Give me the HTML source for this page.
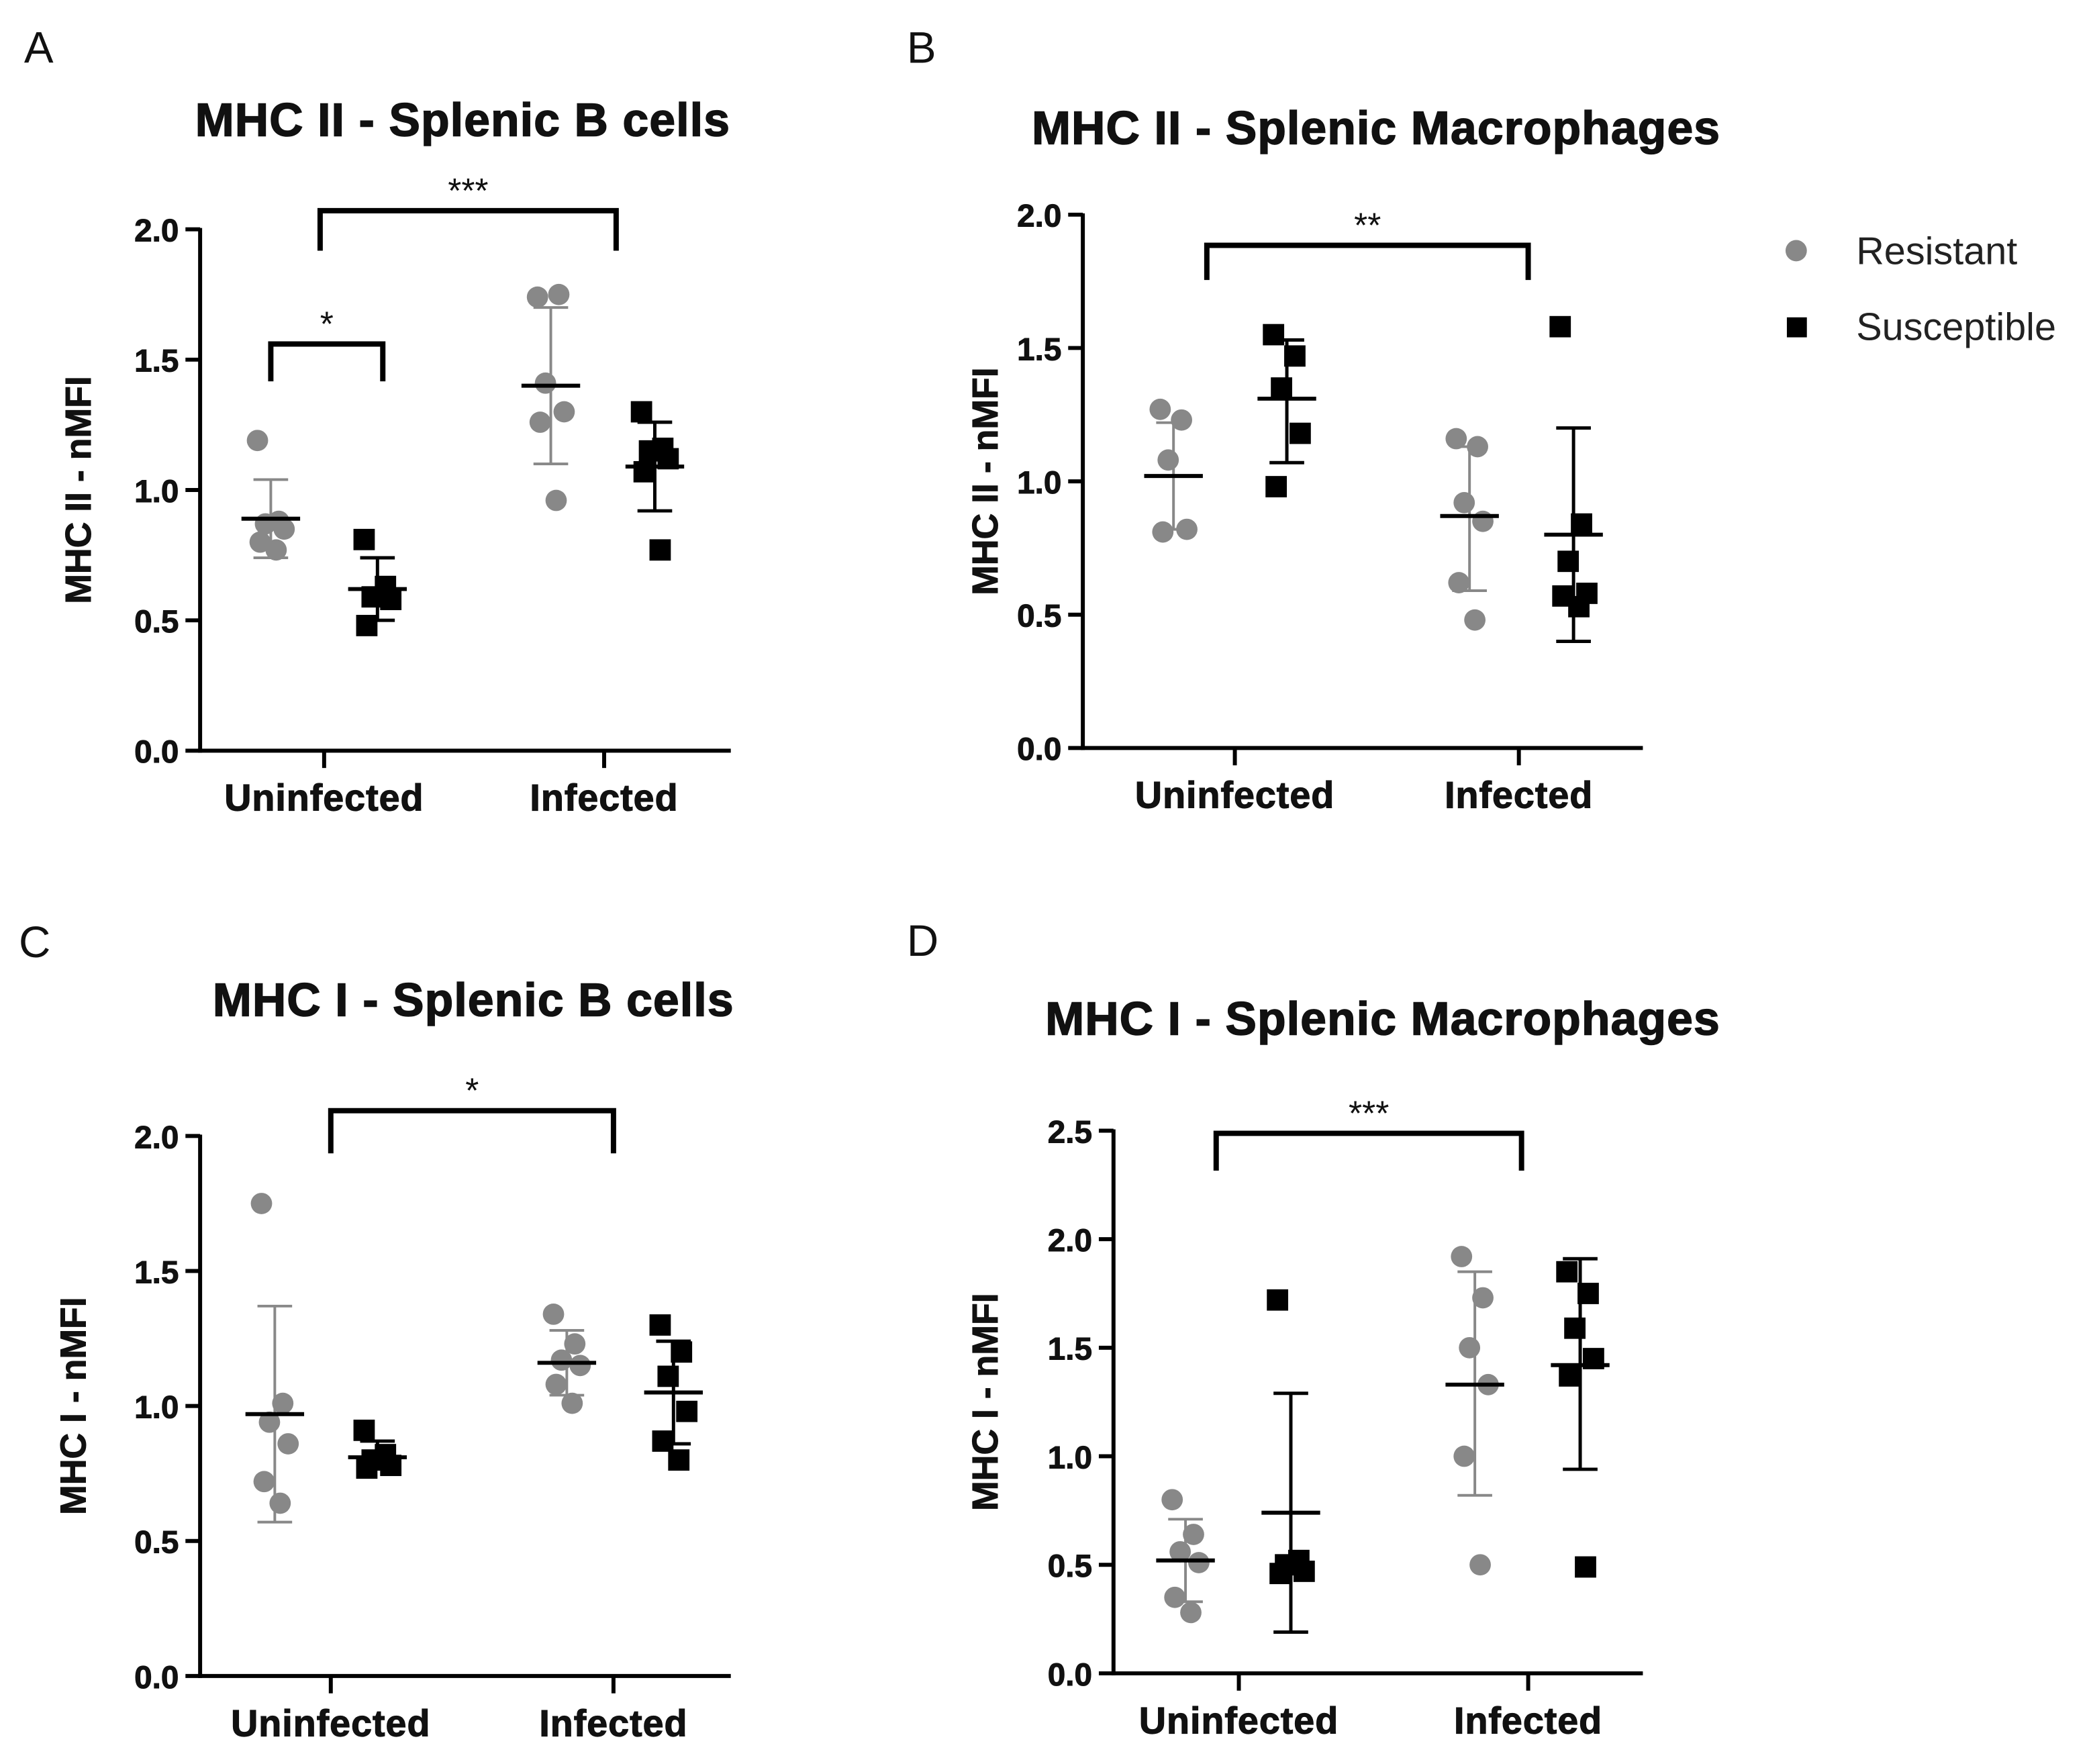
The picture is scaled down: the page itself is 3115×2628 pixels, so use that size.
<!DOCTYPE html>
<html><head><meta charset="utf-8"><style>
html,body{margin:0;padding:0;background:#fff}
svg{display:block}
text{font-family:"Liberation Sans",Arial,sans-serif}
</style></head><body>
<svg id="fig" width="3115" height="2628" viewBox="0 0 1568 1323" xmlns="http://www.w3.org/2000/svg">
<rect width="1568" height="1323" fill="#fff"/>
<g>
<circle cx="1347" cy="188" r="8" fill="#888"/>
<text x="1392" y="198" font-size="29" fill="#222">Resistant</text>
<rect x="1340" y="238" width="15" height="15" fill="#000"/>
<text x="1392" y="255" font-size="29" fill="#222">Susceptible</text>
</g>
</svg>
<script>
// Panel A data
const catsA=["Uninfected","Infected"];
const resA=[[1.19,0.88,0.87,0.85,0.80,0.77],[1.74,1.75,1.41,1.30,1.26,0.96]];
const susA=[[0.81,0.63,0.59,0.58,0.48],[1.30,1.16,1.15,1.12,1.07,0.77]];
const resStatA=[[0.89,0.74,1.04],[1.40,1.10,1.70]];
const susStatA=[[0.62,0.50,0.74],[1.09,0.92,1.26]];
const ticksA=[0,0.5,1.0,1.5,2.0];
// Panel B data
const catsB=["Uninfected","Infected"];
const resB=[[1.27,1.23,1.08,0.82,0.81],[1.16,1.13,0.92,0.85,0.62,0.48]];
const susB=[[1.55,1.47,1.35,1.18,0.98],[1.58,0.84,0.70,0.58,0.57,0.53]];
const resStatB=[[1.02,0.82,1.22],[0.87,0.59,1.13]];
const susStatB=[[1.31,1.07,1.53],[0.80,0.40,1.20]];
const ticksB=[0,0.5,1.0,1.5,2.0];
// Panel C data
const catsC=["Uninfected","Infected"];
const resC=[[1.75,1.01,0.94,0.86,0.72,0.64],[1.34,1.23,1.17,1.15,1.08,1.01]];
const susC=[[0.91,0.82,0.80,0.78,0.77],[1.30,1.20,1.11,0.98,0.87,0.80]];
const resStatC=[[0.97,0.57,1.37],[1.16,1.04,1.28]];
const susStatC=[[0.81,0.78,0.87],[1.05,0.86,1.24]];
const ticksC=[0,0.5,1.0,1.5,2.0];
// Panel D data
const catsD=["Uninfected","Infected"];
const resD=[[0.80,0.64,0.56,0.51,0.35,0.28],[1.92,1.73,1.50,1.33,1.00,0.50]];
const susD=[[1.72,0.52,0.50,0.47,0.46],[1.85,1.75,1.59,1.45,1.37,0.49]];
const resStatD=[[0.52,0.33,0.71],[1.33,0.82,1.85]];
const susStatD=[[0.74,0.19,1.29],[1.42,0.94,1.91]];
const ticksD=[0,0.5,1.0,1.5,2.0,2.5];

const NS="http://www.w3.org/2000/svg";
const svg=document.getElementById('fig');
function mk(tag,attrs,parent){const e=document.createElementNS(NS,tag);for(const k in attrs)e.setAttribute(k,attrs[k]);(parent||svg).appendChild(e);return e;}
const jitter=[-10,6,-4,10,-8,4];

function panel(o){
  const g=mk('g',{});
  
  
  const yMax=o.ticks[o.ticks.length-1];
  const ys=v=>o.y0-(o.y0-o.yTop)*v/yMax;
  let t=mk('text',{x:o.lx,y:o.ly,'font-size':33,fill:'#111'},g);t.textContent=o.id.toUpperCase();
  
  t=mk('text',{x:o.tx,y:o.ty,'font-size':35,'font-weight':'bold','text-anchor':'middle',fill:'#111',stroke:'#111','stroke-width':0.8,'letter-spacing':0.6},g);t.textContent=o.title;
  
  let l=mk('line',{x1:o.ax,y1:o.yTop-1,x2:o.ax,y2:o.y0+1.5,stroke:'#000','stroke-width':3},g);
  
  l=mk('line',{x1:o.ax-1.5,y1:o.y0,x2:o.xEnd,y2:o.y0,stroke:'#000','stroke-width':3},g);
  
  o.ticks.forEach(v=>{
    const y=ys(v);
    const tk=mk('line',{x1:o.ax-11,y1:y,x2:o.ax,y2:y,stroke:'#000','stroke-width':3},g);
    
    const tl=mk('text',{x:o.ax-16,y:y+9,'font-size':24,'font-weight':'bold','text-anchor':'end',fill:'#111',stroke:'#111','stroke-width':0.5},g);
    tl.textContent=v.toFixed(1);
    
  });
  t=mk('text',{x:0,y:0,'font-size':27,'font-weight':'bold','text-anchor':'middle',fill:'#111',stroke:'#111','stroke-width':0.5,transform:`translate(${o.ylx},${(o.yTop+o.y0)/2}) rotate(-90)`},g);
  t.textContent=o.ylab;
  o.cats.forEach((c,i)=>{
    const x=o.cx[i];
    const tk=mk('line',{x1:x,y1:o.y0,x2:x,y2:o.y0+13,stroke:'#000','stroke-width':3},g);
    
    const tl=mk('text',{x:x,y:o.y0+45,'font-size':28,'font-weight':'bold','text-anchor':'middle',fill:'#111',stroke:'#111','stroke-width':0.6,'letter-spacing':0.5},g);
    tl.textContent=c;
    [['resistant',o.res[i],o.resStat[i],o.rx[i],'#888',2],['susceptible',o.sus[i],o.susStat[i],o.sx[i],'#000',2.5]].forEach(([nm,pts,st,gx,col,ew])=>{
      pts.forEach((v,j)=>{
        const px=gx+jitter[j%jitter.length];
        let m;
        if(nm==='resistant'){m=mk('circle',{cx:px,cy:ys(v),r:8,fill:col},g);}
        else{m=mk('rect',{x:px-8,y:ys(v)-8,width:16,height:16,fill:col},g);}
        
      });
      const eb=mk('g',{stroke:col,'stroke-width':ew},g);
      
      mk('line',{x1:gx,y1:ys(st[1]),x2:gx,y2:ys(st[2])},eb);
      mk('line',{x1:gx-13,y1:ys(st[1]),x2:gx+13,y2:ys(st[1])},eb);
      mk('line',{x1:gx-13,y1:ys(st[2]),x2:gx+13,y2:ys(st[2])},eb);
      const mn=mk('line',{x1:gx-22,y1:ys(st[0]),x2:gx+22,y2:ys(st[0]),stroke:'#000','stroke-width':3},g);
      
    });
  });
  o.brackets.forEach(b=>{
    const p=mk('path',{d:`M${b.x1},${b.yl} L${b.x1},${b.y} L${b.x2},${b.y} L${b.x2},${b.yl}`,fill:'none',stroke:'#000','stroke-width':4},g);
    
    const s=mk('text',{x:(b.x1+b.x2)/2,y:b.y-6,'font-size':26,'text-anchor':'middle',fill:'#111'},g);
    s.textContent=b.s;
  });
}

panel({id:'a',title:'MHC II - Splenic B cells',ylab:'MHC II - nMFI',lx:18,ly:47,tx:347,ty:102,ax:150,yTop:172,y0:563,xEnd:548,ylx:68,
  ticks:ticksA,cats:catsA,cx:[243,453],rx:[203,413],sx:[283,491],res:resA,sus:susA,resStat:resStatA,susStat:susStatA,
  brackets:[{x1:203,x2:287,y:258,yl:286,s:'*'},{x1:240,x2:462,y:158,yl:188,s:'***'}]});
panel({id:'b',title:'MHC II - Splenic Macrophages',ylab:'MHC II - nMFI',lx:680,ly:47,tx:1032,ty:108,ax:812,yTop:161,y0:561,xEnd:1232,ylx:748,
  ticks:ticksB,cats:catsB,cx:[926,1139],rx:[880,1102],sx:[965,1180],res:resB,sus:susB,resStat:resStatB,susStat:susStatB,
  brackets:[{x1:905,x2:1146,y:184,yl:210,s:'**'}]});
panel({id:'c',title:'MHC I - Splenic B cells',ylab:'MHC I - nMFI',lx:14,ly:718,tx:355,ty:762,ax:150,yTop:852,y0:1257,xEnd:548,ylx:64,
  ticks:ticksC,cats:catsC,cx:[248,460],rx:[206,425],sx:[283,505],res:resC,sus:susC,resStat:resStatC,susStat:susStatC,
  brackets:[{x1:248,x2:460,y:833,yl:865,s:'*'}]});
panel({id:'d',title:'MHC I - Splenic Macrophages',ylab:'MHC I - nMFI',lx:680,ly:717,tx:1037,ty:776,ax:835,yTop:848,y0:1255,xEnd:1232,ylx:748,
  ticks:ticksD,cats:catsD,cx:[929,1146],rx:[889,1106],sx:[968,1185],res:resD,sus:susD,resStat:resStatD,susStat:susStatD,
  brackets:[{x1:912,x2:1141,y:850,yl:878,s:'***'}]});
</script>
</body></html>
